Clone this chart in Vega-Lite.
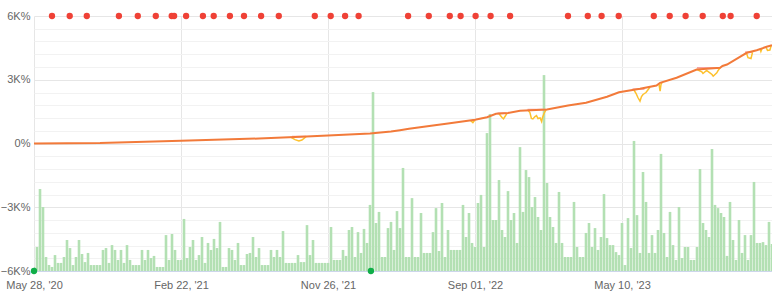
{
  "$schema": "https://vega.github.io/schema/vega-lite/v6.json",
  "width": 738,
  "height": 255,
  "autosize": {"type": "none"},
  "padding": {"left": 34, "right": 0, "top": 16, "bottom": 29},
  "background": "#ffffff",
  "config": {
    "view": {"stroke": null},
    "axis": {"labelFont": "Liberation Sans", "labelFontSize": 11, "labelColor": "#666666"}
  },
  "datasets": {
    "vol": [
      {"t":0,"v":-5810},{"t":1,"v":-4870},{"t":2,"v":-2140},{"t":3,"v":-2990},{"t":4,"v":-5340},{"t":5,"v":-5720},{"t":6,"v":-5810},{"t":7,"v":-5250},{"t":8,"v":-5620},{"t":9,"v":-5620},
      {"t":10,"v":-5340},{"t":11,"v":-4540},{"t":12,"v":-4920},{"t":13,"v":-5720},{"t":14,"v":-5340},{"t":15,"v":-4540},{"t":16,"v":-5200},{"t":17,"v":-5580},{"t":18,"v":-5150},{"t":19,"v":-5720},
      {"t":20,"v":-5720},{"t":21,"v":-5720},{"t":22,"v":-5720},{"t":23,"v":-5010},{"t":24,"v":-4920},{"t":25,"v":-5620},{"t":26,"v":-4780},{"t":27,"v":-5010},{"t":28,"v":-5480},{"t":29,"v":-5010},
      {"t":30,"v":-5620},{"t":31,"v":-4780},{"t":32,"v":-5480},{"t":33,"v":-5720},{"t":34,"v":-5720},{"t":35,"v":-5720},{"t":36,"v":-5010},{"t":37,"v":-5480},{"t":38,"v":-5010},{"t":39,"v":-5390},
      {"t":40,"v":-5290},{"t":41,"v":-5810},{"t":42,"v":-5810},{"t":43,"v":-5810},{"t":44,"v":-4310},{"t":45,"v":-5480},{"t":46,"v":-4260},{"t":47,"v":-5010},{"t":48,"v":-5480},{"t":49,"v":-5480},
      {"t":50,"v":-3550},{"t":51,"v":-5390},{"t":52,"v":-4870},{"t":53,"v":-4540},{"t":54,"v":-5480},{"t":55,"v":-5250},{"t":56,"v":-4400},{"t":57,"v":-5620},{"t":58,"v":-4680},{"t":59,"v":-5010},
      {"t":60,"v":-4490},{"t":61,"v":-4920},{"t":62,"v":-3690},{"t":63,"v":-5810},{"t":64,"v":-5810},{"t":65,"v":-4920},{"t":66,"v":-5010},{"t":67,"v":-5480},{"t":68,"v":-4680},{"t":69,"v":-5720},
      {"t":70,"v":-5720},{"t":71,"v":-5200},{"t":72,"v":-5150},{"t":73,"v":-4400},{"t":74,"v":-5340},{"t":75,"v":-4920},{"t":76,"v":-5720},{"t":77,"v":-5720},{"t":78,"v":-5720},{"t":79,"v":-5010},
      {"t":80,"v":-5340},{"t":81,"v":-5010},{"t":82,"v":-5340},{"t":83,"v":-4120},{"t":84,"v":-5620},{"t":85,"v":-5620},{"t":86,"v":-5620},{"t":87,"v":-5620},{"t":88,"v":-5250},{"t":89,"v":-5580},
      {"t":90,"v":-5580},{"t":91,"v":-3840},{"t":92,"v":-5250},{"t":93,"v":-4540},{"t":94,"v":-5620},{"t":95,"v":-5620},{"t":96,"v":-5620},{"t":97,"v":-5620},{"t":98,"v":-5620},{"t":99,"v":-3930},
      {"t":100,"v":-5480},{"t":101,"v":-5480},{"t":102,"v":-5480},{"t":103,"v":-5010},{"t":104,"v":-5290},{"t":105,"v":-4070},{"t":106,"v":-3930},{"t":107,"v":-5340},{"t":108,"v":-4170},{"t":109,"v":-5150},
      {"t":110,"v":-4020},{"t":111,"v":-4680},{"t":112,"v":-2890},{"t":113,"v":2420},{"t":114,"v":-3740},{"t":115,"v":-3220},{"t":116,"v":-5340},{"t":117,"v":-5340},{"t":118,"v":-3980},{"t":119,"v":-3690},
      {"t":120,"v":-5010},{"t":121,"v":-3180},{"t":122,"v":-3980},{"t":123,"v":-1150},{"t":124,"v":-5340},{"t":125,"v":-5340},{"t":126,"v":-2570},{"t":127,"v":-5340},{"t":128,"v":-5340},{"t":129,"v":-3270},
      {"t":130,"v":-5150},{"t":131,"v":-5150},{"t":132,"v":-5150},{"t":133,"v":-4170},{"t":134,"v":-3040},{"t":135,"v":-5060},{"t":136,"v":-2800},{"t":137,"v":-5340},{"t":138,"v":-4070},{"t":139,"v":-5010},
      {"t":140,"v":-5010},{"t":141,"v":-5010},{"t":142,"v":-5010},{"t":143,"v":-2890},{"t":144,"v":-4400},{"t":145,"v":-3270},{"t":146,"v":-4680},{"t":147,"v":-4870},{"t":148,"v":-2800},{"t":149,"v":-2420},
      {"t":150,"v":-4870},{"t":151,"v":490},{"t":152,"v":1390},{"t":153,"v":-3600},{"t":154,"v":-3600},{"t":155,"v":-1720},{"t":156,"v":-4070},{"t":157,"v":-4400},{"t":158,"v":-2240},{"t":159,"v":-3600},
      {"t":160,"v":-3270},{"t":161,"v":-4680},{"t":162,"v":-170},{"t":163,"v":-3220},{"t":164,"v":-1250},{"t":165,"v":-1580},{"t":166,"v":-2990},{"t":167,"v":-2520},{"t":168,"v":-3460},{"t":169,"v":-4070},
      {"t":170,"v":3220},{"t":171,"v":-1860},{"t":172,"v":-3460},{"t":173,"v":-3930},{"t":174,"v":-4680},{"t":175,"v":-2280},{"t":176,"v":-4680},{"t":177,"v":-5340},{"t":178,"v":-5340},{"t":179,"v":-5340},
      {"t":180,"v":-2750},{"t":181,"v":-4870},{"t":182,"v":-5340},{"t":183,"v":-5340},{"t":184,"v":-4210},{"t":185,"v":-3740},{"t":186,"v":-4870},{"t":187,"v":-3980},{"t":188,"v":-5010},{"t":189,"v":-4400},
      {"t":190,"v":-2380},{"t":191,"v":-4450},{"t":192,"v":-4780},{"t":193,"v":-4780},{"t":194,"v":-5110},{"t":195,"v":-5250},{"t":196,"v":-3740},{"t":197,"v":-5720},{"t":198,"v":-3510},{"t":199,"v":-4920},
      {"t":200,"v":120},{"t":201,"v":-3370},{"t":202,"v":-5150},{"t":203,"v":-1340},{"t":204,"v":-2750},{"t":205,"v":-5150},{"t":206,"v":-4310},{"t":207,"v":-5150},{"t":208,"v":-4070},{"t":209,"v":-490},
      {"t":210,"v":-4210},{"t":211,"v":-5340},{"t":212,"v":-3220},{"t":213,"v":-4780},{"t":214,"v":-5480},{"t":215,"v":-2990},{"t":216,"v":-5390},{"t":217,"v":-4870},{"t":218,"v":-4870},{"t":219,"v":-5480},
      {"t":220,"v":-5480},{"t":221,"v":-4870},{"t":222,"v":-1200},{"t":223,"v":-3740},{"t":224,"v":-4070},{"t":225,"v":-4400},{"t":226,"v":-260},{"t":227,"v":-2890},{"t":228,"v":-3040},{"t":229,"v":-3270},
      {"t":230,"v":-3460},{"t":231,"v":-5290},{"t":232,"v":-2750},{"t":233,"v":-4540},{"t":234,"v":-5480},{"t":235,"v":-3600},{"t":236,"v":-5150},{"t":237,"v":-4310},{"t":238,"v":-5480},{"t":239,"v":-4310},
      {"t":240,"v":-1810},{"t":241,"v":-4680},{"t":242,"v":-4680},{"t":243,"v":-4640},{"t":244,"v":-4780},{"t":245,"v":-3690},{"t":246,"v":-4730}
    ],
    "equity": [
      {"t":0,"v":0},{"t":22,"v":20},{"t":49,"v":130},{"t":75,"v":235},{"t":89,"v":315},{"t":98,"v":380},{"t":112,"v":470},{"t":119,"v":560},{"t":122,"v":626},{"t":125,"v":690},
      {"t":133,"v":847},{"t":138,"v":941},{"t":147,"v":1120},{"t":151,"v":1238},{"t":154,"v":1397},{"t":158,"v":1440},{"t":162,"v":1538},{"t":171,"v":1600},{"t":178,"v":1788},{"t":184,"v":1915},
      {"t":191,"v":2198},{"t":195,"v":2414},{"t":202,"v":2574},{"t":207.5,"v":2729},{"t":208.7,"v":2857},{"t":214.2,"v":3092},{"t":220.9,"v":3482},{"t":228.7,"v":3561},{"t":229.5,"v":3650},{"t":231,"v":3718},
      {"t":235.3,"v":4080},{"t":237.6,"v":4268},{"t":240.9,"v":4391},{"t":244.2,"v":4551},{"t":246,"v":4620}
    ],
    "peak": [
      {"seg":"a","t":86,"v":330},{"seg":"a","t":90.7,"v":330},
      {"seg":"b","t":154.5,"v":1430},{"seg":"b","t":157.5,"v":1430},
      {"seg":"c","t":164.5,"v":1600},{"seg":"c","t":170.8,"v":1600},
      {"seg":"d","t":199.5,"v":2560},{"seg":"d","t":203.5,"v":2560},
      {"seg":"e","t":221,"v":3565},{"seg":"e","t":228.7,"v":3565},
      {"seg":"f","t":237,"v":4300},{"seg":"f","t":239.5,"v":4300}
    ],
    "dip": [
      {"seg":"a","t":85.5,"v":300},{"seg":"a","t":87,"v":180},{"seg":"a","t":88.3,"v":120},{"seg":"a","t":89.3,"v":165},{"seg":"a","t":90.7,"v":320},
      {"seg":"j","t":145.5,"v":1080},{"seg":"j","t":146.3,"v":980},{"seg":"j","t":147,"v":1110},
      {"seg":"b","t":155,"v":1400},{"seg":"b","t":156,"v":1224},{"seg":"b","t":156.5,"v":1160},{"seg":"b","t":157,"v":1270},{"seg":"b","t":157.7,"v":1430},
      {"seg":"c","t":164.7,"v":1560},{"seg":"c","t":165.3,"v":1459},{"seg":"c","t":165.8,"v":1176},{"seg":"c","t":166.3,"v":1153},{"seg":"c","t":167,"v":1270},{"seg":"c","t":167.5,"v":1318},{"seg":"c","t":168,"v":1176},{"seg":"c","t":168.7,"v":1200},{"seg":"c","t":169.2,"v":1035},{"seg":"c","t":169.5,"v":1224},{"seg":"c","t":170,"v":1412},{"seg":"c","t":170.7,"v":1590},
      {"seg":"d","t":200,"v":2518},{"seg":"d","t":200.7,"v":2353},{"seg":"d","t":201.3,"v":2165},{"seg":"d","t":202,"v":1990},{"seg":"d","t":202.5,"v":2212},{"seg":"d","t":203,"v":2306},{"seg":"d","t":204,"v":2400},{"seg":"d","t":205.3,"v":2650},
      {"seg":"e","t":208.3,"v":2820},{"seg":"e","t":208.7,"v":2460},{"seg":"e","t":209,"v":2780},{"seg":"e","t":209.3,"v":2850},
      {"seg":"f","t":221,"v":3482},{"seg":"f","t":222.6,"v":3374},{"seg":"f","t":223,"v":3294},{"seg":"f","t":224.2,"v":3435},{"seg":"f","t":225.3,"v":3327},{"seg":"f","t":226,"v":3247},{"seg":"f","t":226.4,"v":3167},{"seg":"f","t":227,"v":3247},{"seg":"f","t":227.6,"v":3327},{"seg":"f","t":228.1,"v":3450},{"seg":"f","t":228.7,"v":3562},
      {"seg":"g","t":237.5,"v":4260},{"seg":"g","t":238,"v":4040},{"seg":"g","t":239,"v":4000},{"seg":"g","t":239.5,"v":4290},
      {"seg":"h","t":242,"v":4470},{"seg":"h","t":242.3,"v":4330},{"seg":"h","t":242.7,"v":4480},
      {"seg":"i","t":244,"v":4530},{"seg":"i","t":244.5,"v":4380},{"seg":"i","t":245.3,"v":4400},{"seg":"i","t":245.7,"v":4600}
    ],
    "trades": [
      {"t":6,"v":6000},{"t":11.9,"v":6000},{"t":17.6,"v":6000},{"t":28.3,"v":6000},{"t":34.6,"v":6000},{"t":40.6,"v":6000},{"t":45.9,"v":6000},{"t":46.7,"v":6000},{"t":50.7,"v":6000},{"t":56.3,"v":6000},
      {"t":59.9,"v":6000},{"t":65.3,"v":6000},{"t":70,"v":6000},{"t":75.7,"v":6000},{"t":81.6,"v":6000},{"t":93.6,"v":6000},{"t":98.9,"v":6000},{"t":103.7,"v":6000},{"t":108.2,"v":6000},{"t":124.7,"v":6000},
      {"t":131.6,"v":6000},{"t":138.6,"v":6000},{"t":142.2,"v":6000},{"t":147.2,"v":6000},{"t":152.2,"v":6000},{"t":158.7,"v":6000},{"t":178,"v":6000},{"t":184.6,"v":6000},{"t":189.2,"v":6000},{"t":194.9,"v":6000},
      {"t":206.6,"v":6000},{"t":211.9,"v":6000},{"t":217.2,"v":6000},{"t":222.9,"v":6000},{"t":229.6,"v":6000},{"t":232.2,"v":6000},{"t":240.9,"v":6000}
    ],
    "events": [
      {"t":0,"v":-6000},{"t":112.3,"v":-6000}
    ]
  },
  "encoding": {
    "x": {
      "field": "t", "type": "quantitative",
      "scale": {"domain": [0, 246], "nice": false, "zero": false, "padding": 0},
      "axis": {
        "title": null,
        "values": [0, 49, 98, 147, 196],
        "labelExpr": "datum.value == 0 ? \"May 28, '20\" : datum.value == 49 ? \"Feb 22, '21\" : datum.value == 98 ? \"Nov 26, '21\" : datum.value == 147 ? \"Sep 01, '22\" : \"May 10, '23\"",
        "grid": true, "gridColor": "#e6e6e6", "gridWidth": 1,
        "ticks": false, "domainColor": "#ccd6eb", "domainWidth": 1,
        "labelPadding": 8, "labelFlush": false, "labelOverlap": false
      }
    },
    "y": {
      "field": "v", "type": "quantitative",
      "scale": {"domain": [-6000, 6000], "nice": false, "zero": false, "padding": 0},
      "axis": {
        "title": null,
        "values": [-6000,-5400,-4800,-4200,-3600,-3000,-2400,-1800,-1200,-600,0,600,1200,1800,2400,3000,3600,4200,4800,5400,6000],
        "labelExpr": "datum.value % 3000 == 0 ? (datum.value == 0 ? '0%' : (datum.value < 0 ? '\u2212' : '') + (abs(datum.value) / 1000) + 'K%') : ''",
        "grid": true,
        "gridColor": {"condition": {"test": "datum.value % 3000 == 0", "value": "#e6e6e6"}, "value": "#f2f2f2"},
        "domain": false, "ticks": false, "labelPadding": 4, "labelOverlap": false, "labelFlush": false
      }
    }
  },
  "layer": [
    {
      "data": {"name": "vol"},
      "mark": {"type": "bar", "width": 2.6, "color": "#b3e0b3", "clip": true},
      "encoding": {"y2": {"datum": -6000}}
    },
    {
      "data": {"name": "peak"},
      "mark": {"type": "line", "color": "#f5a3a3", "strokeWidth": 1.5},
      "encoding": {"detail": {"field": "seg"}}
    },
    {
      "data": {"name": "dip"},
      "mark": {"type": "line", "color": "#fdc12c", "strokeWidth": 1.5},
      "encoding": {"detail": {"field": "seg"}}
    },
    {
      "data": {"name": "equity"},
      "mark": {"type": "line", "color": "#f27a3a", "strokeWidth": 2},
      "encoding": {}
    },
    {
      "data": {"name": "trades"},
      "mark": {"type": "circle", "color": "#ef4136", "opacity": 1, "size": 40},
      "encoding": {}
    },
    {
      "data": {"name": "events"},
      "mark": {"type": "circle", "color": "#0fae48", "opacity": 1, "size": 40},
      "encoding": {}
    }
  ]
}
